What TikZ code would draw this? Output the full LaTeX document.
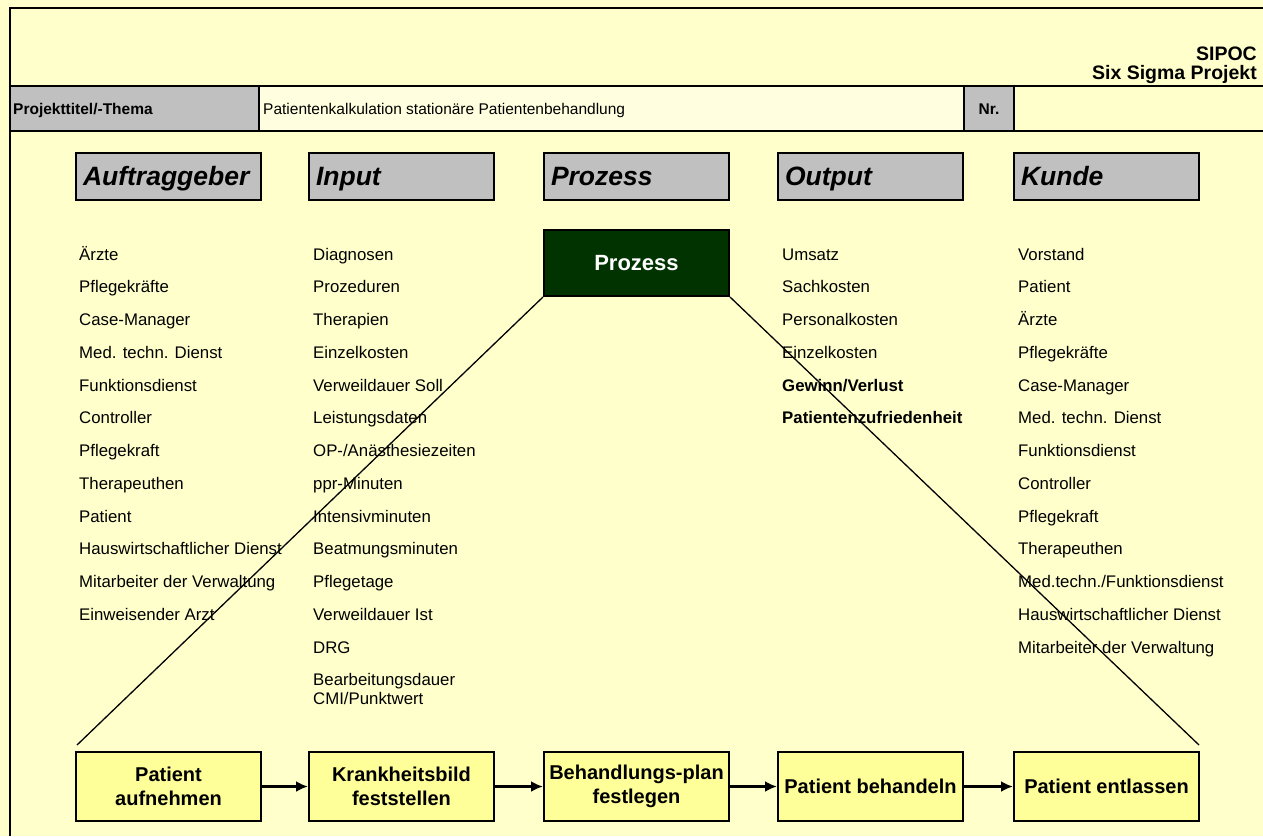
\documentclass[tikz,border=0pt]{standalone}
\usepackage{fontspec}
\setmainfont{Liberation Sans}
\usepackage{tikz}
\usetikzlibrary{arrows.meta}
\definecolor{gelbgrund}{HTML}{FFFFCC}
\definecolor{zelle}{HTML}{FFFFE0}
\definecolor{grau}{HTML}{C0C0C0}
\definecolor{gelb}{HTML}{FFFF99}
\definecolor{dunkelgruen}{HTML}{003300}
\begin{document}
\begin{tikzpicture}[>={Latex[length=12pt,width=11pt]}, x=1pt, y=-1pt,
	liste/.style={anchor=base west, inner sep=0pt, font=\fontsize{16.8}{19}\selectfont},
	kopf/.style={draw, line width=2pt, fill=grau, minimum height=47pt, text width=171pt, text height=19pt, text depth=0.4pt, inner sep=7pt, align=left, font=\fontsize{26.5}{30}\selectfont\bfseries\itshape},
	schritt/.style={draw, line width=2pt, fill=gelb, minimum width=185pt, minimum height=69pt, inner sep=2pt, align=center, font=\fontsize{20}{24}\selectfont\bfseries}]
%		\draw [help lines, step=50] (0,0) grid (1263,836);
		\fill [gelbgrund] (0,0) rectangle (1263,836);
		\useasboundingbox (0,0) rectangle (1263,836);
		\fill [grau] (9.5,86) rectangle (259,131);
		\fill [zelle] (259,86) rectangle (964,131);
		\fill [grau] (964,86) rectangle (1014,131);
		\draw [line width=2pt] (1263,8) -- (9.5,8) -- (9.5,836);
		\draw [line width=2pt] (9.5,86) -- (1263,86);
		\draw [line width=2pt] (9.5,131) -- (1263,131);
		\draw [line width=2pt] (259,86) -- (259,131);
		\draw [line width=2pt] (964,86) -- (964,131);
		\draw [line width=2pt] (1014,86) -- (1014,131);
		\node (sipoc) [anchor=base east, inner sep=0pt, font=\fontsize{19.5}{24}\selectfont\bfseries] at (1257,60) {SIPOC};
		\node (sixsigma) [anchor=base east, inner sep=0pt, font=\fontsize{19.5}{24}\selectfont\bfseries] at (1257,79) {Six Sigma Projekt};
		\node (titel) [anchor=base west, inner sep=0pt, font=\fontsize{15.5}{18}\selectfont\bfseries] at (13,114.5) {Projekttitel/-Thema};
		\node (thema) [anchor=base west, inner sep=0pt, font=\fontsize{15.5}{18}\selectfont] at (263,114.5) {Patientenkalkulation stationäre Patientenbehandlung};
		\node (nr) [anchor=base, inner sep=0pt, font=\fontsize{15.5}{18}\selectfont\bfseries] at (989,114.5) {Nr.};
		\node (auftraggeber) [kopf] at (168.5,176.5) {Auftraggeber};
		\node (input) [kopf] at (401.5,176.5) {Input};
		\node (prozess) [kopf] at (636.5,176.5) {Prozess};
		\node (output) [kopf] at (870.5,176.5) {Output};
		\node (kunde) [kopf] at (1106.5,176.5) {Kunde};
		\node (proz) [draw, line width=2pt, fill=dunkelgruen, text=white, minimum width=185pt, minimum height=66pt, font=\fontsize{22}{26}\selectfont\bfseries] at (636.5,263) {Prozess};
		\node (a1) [liste] at (79,260) {Ärzte};
		\node (a2) [liste] at (79,292.8) {Pflegekräfte};
		\node (a3) [liste] at (79,325.5) {Case-Manager};
		\node (a4) [liste] at (79,358.3) {Med. techn. Dienst};
		\node (a5) [liste] at (79,391) {Funktionsdienst};
		\node (a6) [liste] at (79,423.8) {Controller};
		\node (a7) [liste] at (79,456.5) {Pflegekraft};
		\node (a8) [liste] at (79,489.3) {Therapeuthen};
		\node (a9) [liste] at (79,522) {Patient};
		\node (a10) [liste] at (79,554.8) {Hauswirtschaftlicher Dienst};
		\node (a11) [liste] at (79,587.5) {Mitarbeiter der Verwaltung};
		\node (a12) [liste] at (79,620.3) {Einweisender Arzt};
		\node (i1) [liste] at (313,260) {Diagnosen};
		\node (i2) [liste] at (313,292.8) {Prozeduren};
		\node (i3) [liste] at (313,325.5) {Therapien};
		\node (i4) [liste] at (313,358.3) {Einzelkosten};
		\node (i5) [liste] at (313,391) {Verweildauer Soll};
		\node (i6) [liste] at (313,423.8) {Leistungsdaten};
		\node (i7) [liste] at (313,456.5) {OP-/Anästhesiezeiten};
		\node (i8) [liste] at (313,489.3) {ppr-Minuten};
		\node (i9) [liste] at (313,522) {Intensivminuten};
		\node (i10) [liste] at (313,554.8) {Beatmungsminuten};
		\node (i11) [liste] at (313,587.5) {Pflegetage};
		\node (i12) [liste] at (313,620.3) {Verweildauer Ist};
		\node (i13) [liste] at (313,653) {DRG};
		\node (i14) [liste] at (313,685.8) {Bearbeitungsdauer};
		\node (i15) [liste] at (313,704.8) {CMI/Punktwert};
		\node (o1) [liste] at (782,260) {Umsatz};
		\node (o2) [liste] at (782,292.8) {Sachkosten};
		\node (o3) [liste] at (782,325.5) {Personalkosten};
		\node (o4) [liste] at (782,358.3) {Einzelkosten};
		\node (o5) [liste, font=\fontsize{16.8}{19}\selectfont\bfseries] at (782,391) {Gewinn/Verlust};
		\node (o6) [liste, font=\fontsize{16.8}{19}\selectfont\bfseries] at (782,423.8) {Patientenzufriedenheit};
		\node (k1) [liste] at (1018,260) {Vorstand};
		\node (k2) [liste] at (1018,292.8) {Patient};
		\node (k3) [liste] at (1018,325.5) {Ärzte};
		\node (k4) [liste] at (1018,358.3) {Pflegekräfte};
		\node (k5) [liste] at (1018,391) {Case-Manager};
		\node (k6) [liste] at (1018,423.8) {Med. techn. Dienst};
		\node (k7) [liste] at (1018,456.5) {Funktionsdienst};
		\node (k8) [liste] at (1018,489.3) {Controller};
		\node (k9) [liste] at (1018,522) {Pflegekraft};
		\node (k10) [liste] at (1018,554.8) {Therapeuthen};
		\node (k11) [liste] at (1018,587.5) {Med.techn./Funktionsdienst};
		\node (k12) [liste] at (1018,620.3) {Hauswirtschaftlicher Dienst};
		\node (k13) [liste] at (1018,653) {Mitarbeiter der Verwaltung};
		\node (s1) [schritt] at (168.5,786.5) {Patient\\aufnehmen};
		\node (s2) [schritt] at (401.5,786.5) {Krankheitsbild\\feststellen};
		\node (s3) [schritt] at (636.5,786.5) {Behandlungs-plan\\festlegen};
		\node (s4) [schritt] at (870.5,786.5) {Patient behandeln};
		\node (s5) [schritt] at (1106.5,786.5) {Patient entlassen};
		\coordinate (links) at (77,745);
		\coordinate (rechts) at (1199,745);
		\draw [line width=1.3pt] (proz.south west) -- (links);
		\draw [line width=1.3pt] (proz.south east) -- (rechts);
		\draw [->, line width=2.5pt] (s1) -- (s2);
		\draw [->, line width=2.5pt] (s2) -- (s3);
		\draw [->, line width=2.5pt] (s3) -- (s4);
		\draw [->, line width=2.5pt] (s4) -- (s5);
	\end{tikzpicture}
\end{document}
